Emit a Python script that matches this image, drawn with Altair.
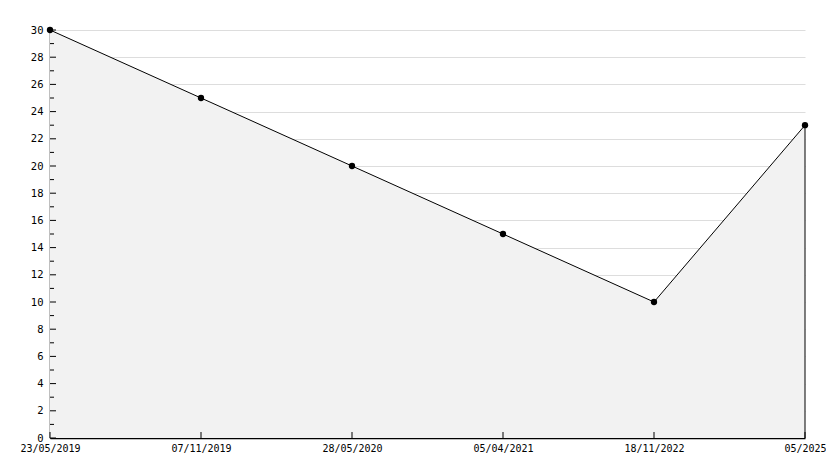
import altair as alt
import pandas as pd

dates = ["23/05/2019", "07/11/2019", "28/05/2020", "05/04/2021", "18/11/2022", "05/2025"]
values = [30, 25, 20, 15, 10, 23]
y_tick_values = list(range(0, 31))
y_label_values = list(range(0, 31, 2))

df = pd.DataFrame({"date": dates, "value": values})
ticks_df = pd.DataFrame({"t": y_tick_values, "major": [v % 2 == 0 for v in y_tick_values]})
last_df = df.tail(1)

W, H = 755, 408
FONT = "DejaVu Sans Mono"

x_scale = alt.Scale(type="point", padding=0, domain=dates)
x_axis = alt.Axis(title=None, labelAngle=0, tickSize=0, domainColor="black",
                  labelFont=FONT, labelFontSize=10, labelColor="black",
                  labelPadding=5, grid=False, labelOverlap=False)
x_plain = alt.X("date:N", sort=dates, scale=x_scale, axis=x_axis)
y_scale = alt.Scale(domain=[0, 30], nice=False)
y_axis = alt.Axis(title=None, values=y_label_values, tickSize=0, domainColor="black",
                  labelFont=FONT, labelFontSize=10.5, labelColor="black",
                  labelOverlap=False, labelPadding=7,
                  grid=True, gridColor="#dddddd", gridWidth=1)
y_plain = alt.Y("value:Q", scale=y_scale, axis=y_axis)

base = alt.Chart(df)
area = base.mark_area(color="#f2f2f2", opacity=1).encode(x=x_plain, y=y_plain)
line = base.mark_line(color="black", strokeWidth=1).encode(x=x_plain, y=y_plain)
edge = alt.Chart(last_df).mark_rule(color="black", strokeWidth=1).encode(
    x=x_plain, y=y_plain, y2=alt.datum(0))
points = base.mark_point(filled=True, color="black", size=40, opacity=1, shape="circle").encode(
    x=x_plain, y=y_plain)

major = alt.Chart(ticks_df[ticks_df.major]).mark_rule(color="black", strokeWidth=1).encode(
    y=alt.Y("t:Q", scale=y_scale, axis=y_axis), x=alt.value(0), x2=alt.value(6))
minor = alt.Chart(ticks_df[~ticks_df.major]).mark_rule(color="black", strokeWidth=1).encode(
    y=alt.Y("t:Q", scale=y_scale, axis=y_axis), x=alt.value(0), x2=alt.value(4))
xticks = base.mark_rule(color="black", strokeWidth=1).encode(
    x=x_plain, y=alt.value(H - 6), y2=alt.value(H))

chart = alt.layer(area, line, edge, major, minor, xticks, points).properties(
    width=W, height=H,
    autosize=alt.AutoSizeParams(type="none"),
    padding={"left": 42, "top": 22, "right": 21, "bottom": 17},
).configure_view(stroke=None).configure_axis(domainWidth=1.5)

chart.save("out.html", embed_options={"renderer": "svg", "actions": False})
